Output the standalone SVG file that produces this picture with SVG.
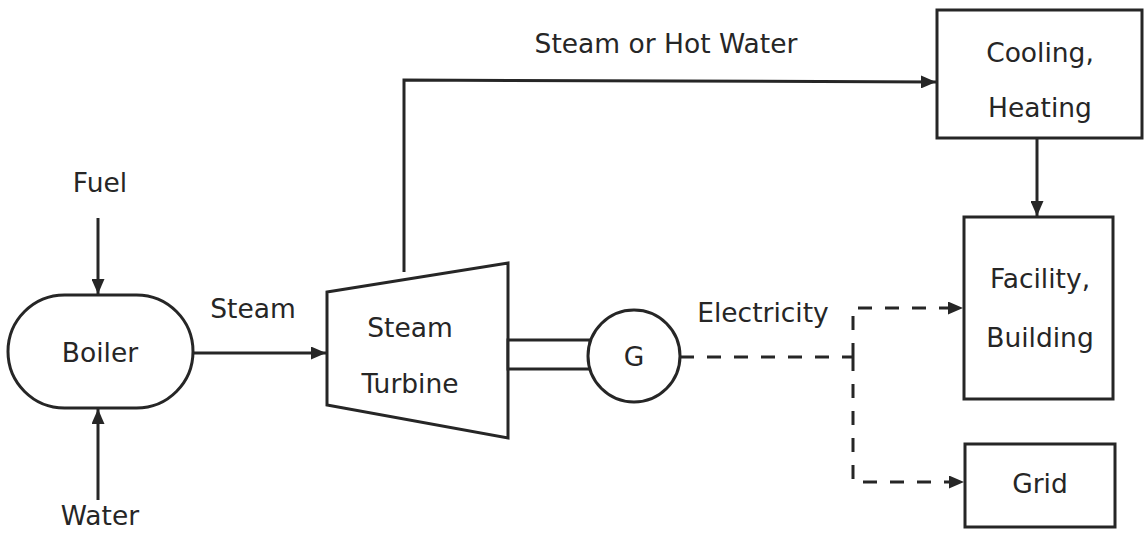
<svg xmlns="http://www.w3.org/2000/svg" width="1145" height="533" viewBox="0 0 1145 533">
<defs>
<style>
.shape{fill:#fff;stroke:#262626;stroke-width:3}
.line{fill:none;stroke:#262626;stroke-width:3}
.dash{fill:none;stroke:#262626;stroke-width:3;stroke-dasharray:14 13}
text{font-family:"DejaVu Sans","Liberation Sans",sans-serif;font-size:26.5px;fill:#262626;text-anchor:middle}
</style>
<marker id="arr" markerUnits="userSpaceOnUse" markerWidth="15" markerHeight="13" refX="15" refY="6.5" orient="auto">
<path d="M0,0 L15,6.5 L0,13 z" fill="#262626"/>
</marker>
</defs>
<rect width="1145" height="533" fill="#fff"/>
<g id="connectors">
<line class="line" x1="98" y1="218" x2="98" y2="294" marker-end="url(#arr)"/>
<line class="line" x1="98" y1="500" x2="98" y2="409" marker-end="url(#arr)"/>
<line class="line" x1="193" y1="353" x2="326" y2="353" marker-end="url(#arr)"/>
<polyline class="line" points="404,272 404,80 936,82" marker-end="url(#arr)"/>
<line class="line" x1="1037" y1="138" x2="1037" y2="216" marker-end="url(#arr)"/>
<line class="dash" x1="680" y1="357" x2="853" y2="357"/>
<polyline class="dash" points="853,357 853,308 963,308" marker-end="url(#arr)"/>
<polyline class="dash" points="853,357 853,482 964,482" marker-end="url(#arr)"/>
<text x="100" y="192">Fuel</text>
<text x="100" y="525">Water</text>
<text x="253" y="318">Steam</text>
<text x="666" y="53">Steam or Hot Water</text>
<text x="763" y="322">Electricity</text>
</g>
<g id="boiler">
<rect class="shape" x="8" y="295" width="185" height="113" rx="56.5" ry="56.5"/>
<text x="100" y="362">Boiler</text>
</g>
<g id="turbine">
<polygon class="shape" points="327,292 508,263 508,438 327,405"/>
<text x="410" y="337">Steam</text>
<text x="410" y="393">Turbine</text>
</g>
<g id="shaft">
<rect class="shape" x="508" y="340" width="82" height="29"/>
</g>
<g id="generator">
<circle class="shape" cx="634" cy="356" r="46"/>
<text x="634" y="366">G</text>
</g>
<g id="cooling">
<rect class="shape" x="937" y="10" width="205" height="128"/>
<text x="1040" y="62">Cooling,</text>
<text x="1040" y="117">Heating</text>
</g>
<g id="facility">
<rect class="shape" x="964" y="217" width="149" height="182"/>
<text x="1040" y="288">Facility,</text>
<text x="1040" y="347">Building</text>
</g>
<g id="grid">
<rect class="shape" x="965" y="444" width="150" height="83"/>
<text x="1040" y="493">Grid</text>
</g>
</svg>
